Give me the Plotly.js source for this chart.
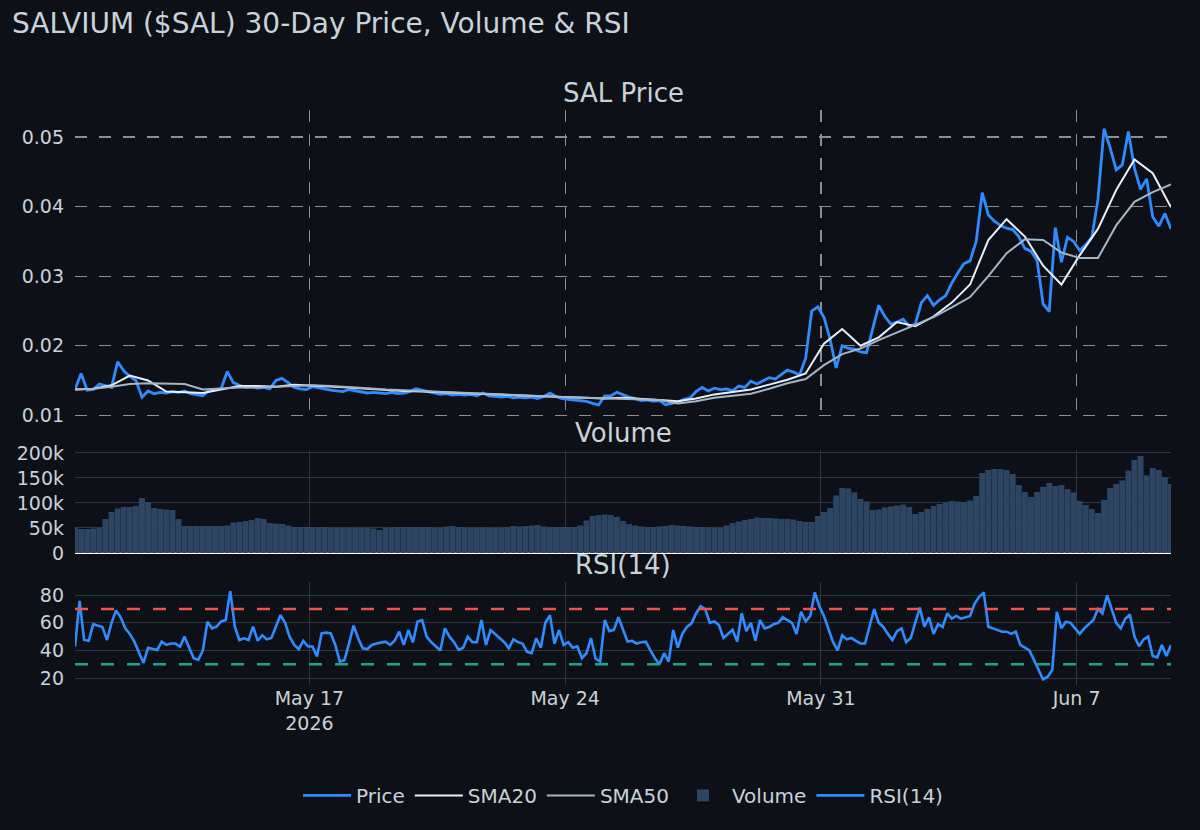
<!DOCTYPE html>
<html>
<head>
<meta charset="utf-8">
<script src="https://cdn.plot.ly/plotly-3.0.1.min.js"></script>
<style>
html,body{margin:0;padding:0;background:#0d1117;}
#chart{width:1200px;height:830px;}
</style>
</head>
<body>
<div id="chart"></div>
<script>
// ---- Data ----
const startTime = '2026-05-10T14:00:00Z';
const priceStepHours = 4;     // price & volume sampled every 4 h
const smaStepHours = 12;      // moving averages sampled every 12 h
const rsiStepHours = 3;       // RSI sampled every 3 h

const price = [
 0.0137,0.0160,0.0136,0.0137,0.0145,0.0143,0.0140,0.0177,0.0164,0.0156,
 0.0150,0.0126,0.0135,0.0131,0.0133,0.0132,0.0134,0.0133,0.0135,0.0131,
 0.0129,0.0128,0.0136,0.0137,0.0138,0.0163,0.0147,0.0143,0.0140,0.0141,
 0.0139,0.0140,0.0138,0.0150,0.0153,0.0147,0.0140,0.0138,0.0137,0.0141,
 0.0139,0.0138,0.0136,0.0135,0.0134,0.0137,0.0135,0.0133,0.0132,0.0133,
 0.0132,0.0131,0.0133,0.0131,0.0132,0.0134,0.0138,0.0136,0.0133,0.0131,
 0.0130,0.0131,0.0129,0.0130,0.0129,0.0130,0.0128,0.0132,0.0128,0.0127,
 0.0126,0.0127,0.0125,0.0126,0.0125,0.0126,0.0124,0.0127,0.0132,0.0127,
 0.0124,0.0123,0.0122,0.0122,0.0120,0.0117,0.0115,0.0128,0.0128,0.0133,
 0.0129,0.0126,0.0124,0.0121,0.0122,0.0120,0.0121,0.0115,0.0117,0.0119,
 0.0123,0.0125,0.0134,0.0140,0.0135,0.0139,0.0137,0.0138,0.0135,0.0142,
 0.0140,0.0149,0.0145,0.0150,0.0154,0.0152,0.0158,0.0165,0.0162,0.0158,
 0.0182,0.0250,0.0256,0.0241,0.0210,0.0168,0.0200,0.0196,0.0195,0.0191,
 0.0190,0.0224,0.0258,0.0242,0.0231,0.0234,0.0238,0.0228,0.0231,0.0262,
 0.0272,0.0258,0.0266,0.0272,0.0290,0.0305,0.0318,0.0322,0.0350,0.0420,
 0.0388,0.0379,0.0373,0.0369,0.0367,0.0357,0.0340,0.0336,0.0323,0.0260,
 0.0249,0.0370,0.0320,0.0356,0.0350,0.0337,0.0345,0.0356,0.0410,0.0512,
 0.0485,0.0453,0.0460,0.0508,0.0455,0.0425,0.0440,0.0385,0.0372,0.0390,
 0.0368
];

const volumeK = [
 52,48,48,49,50,68,82,89,92,92,
 94,110,102,90,88,87,86,68,54,54,
 54,54,54,54,54,55,61,62,64,66,
 70,68,60,59,58,55,52,52,52,52,
 51,52,51,51,51,51,50,50,50,49,
 46,51,51,52,52,52,51,52,52,51,
 51,53,54,52,51,51,51,51,51,50,
 50,52,54,53,54,55,56,53,52,52,
 52,52,52,55,65,74,76,77,76,72,
 64,58,55,53,52,52,53,54,56,55,
 54,53,52,52,51,50,50,55,60,63,
 66,68,71,70,70,69,68,68,67,64,
 62,62,74,82,90,115,130,129,121,108,
 103,86,87,91,93,95,97,92,78,82,
 88,94,98,101,104,103,102,105,114,160,
 166,168,168,166,158,136,122,112,122,132,
 140,134,136,128,121,104,96,88,80,106,
 130,138,145,165,186,194,155,170,166,152,
 138
];

const sma20 = [
 0.0137,0.0138,0.0143,0.0157,0.0150,0.0134,0.0133,0.0132,0.0137,0.0142,
 0.0142,0.0141,0.0144,0.0143,0.0141,0.0140,0.0138,0.0136,0.0135,0.0134,
 0.0133,0.0131,0.0130,0.0129,0.0128,0.0127,0.0126,0.0125,0.0124,0.0124,
 0.0125,0.0124,0.0122,0.0120,0.0124,0.0130,0.0134,0.0137,0.0144,0.0151,
 0.0160,0.0203,0.0224,0.0200,0.0212,0.0234,0.0228,0.0242,0.0262,0.0288,
 0.0352,0.0382,0.0357,0.0315,0.0288,0.0330,0.0368,0.0424,0.0468,0.0448,
 0.0399
];

const sma50 = [
 0.0137,0.0138,0.0141,0.0145,0.0146,0.0146,0.0145,0.0137,0.0139,0.0140,
 0.0140,0.0141,0.0143,0.0143,0.0142,0.0141,0.0139,0.0137,0.0136,0.0134,
 0.0133,0.0132,0.0131,0.0130,0.0129,0.0128,0.0127,0.0126,0.0125,0.0124,
 0.0124,0.0123,0.0122,0.0117,0.0120,0.0125,0.0128,0.0131,0.0138,0.0146,
 0.0152,0.0172,0.0188,0.0196,0.0208,0.0219,0.0229,0.0241,0.0255,0.0270,
 0.0300,0.0333,0.0353,0.0352,0.0334,0.0326,0.0326,0.0373,0.0407,0.0421,
 0.0432
];

const rsi = [
 42.8,75.9,47.6,47,59,58,57,47.6,60,69,
 64,56,52,46.4,38,31,42,41,40.4,46.4,
 44,45,45,42.8,50,42,34.4,33.2,40,60.8,
 56,57.2,61,62,83,57.2,47.6,48.8,47.6,57.2,
 47,51,48,49,57.2,65.6,60,50,44,41,
 47,43,42.8,35.6,52.4,52.9,52.4,44,32,33,
 45,58,49,41.6,41,44,45,45.5,46.4,44,
 47,53.6,44,54.8,46,61,62,50,46,43,
 40,56,50,46,40.4,42,50,46,46,62,
 44,54.8,52,48.8,46,41.6,48,46,45,39,
 38,48.8,42,60,65.6,45,54.8,44,46,42,
 43,34.4,38,49,34,32,62,54,54.8,64,
 55,46.4,47,45,46,46.4,40,34.4,30,38,
 32,54.8,42,52,57,59.6,66.8,72,70,60,
 61,58.4,49,52,55,46.4,66.8,54,60,47,
 62,56,57,59,60,64,62,60,52,68,
 61,65,82,72,65,54.8,46,40,51,48,
 49,47,45,45,58,70,60,57,52,47.6,
 54,56,46,49,60,71,57.2,64,52,59,
 57,66.8,63,65,63,64,65,74,78.8,82,
 57.2,56,54.8,53.6,53.6,52,53.6,44,42,40,
 33,26,19,21,26,68,56,60.8,60,56,
 52,56,59,62,70,66.8,80,70.4,60,56,
 63,66,50,43,48,50,36,35,44,36,
 44
];

const rsiOverbought = 70;
const rsiOversold = 30;

const tickDates = ['2026-05-17', '2026-05-24', '2026-05-31', '2026-06-07'];
const tickLabels = ['May 17<br>2026', 'May 24', 'May 31', 'Jun 7'];

// ---- Build time axes ----
function timeAxis(n, stepH) {
  const t0 = Date.parse(startTime);
  const out = [];
  for (let k = 0; k < n; k++) {
    out.push(new Date(t0 + k * stepH * 3600000).toISOString().slice(0, 19).replace('T', ' '));
  }
  return out;
}
const priceTimes = timeAxis(price.length, priceStepHours);
const smaTimes = timeAxis(sma20.length, smaStepHours);
const rsiTimes = timeAxis(rsi.length, rsiStepHours);
const volume = volumeK.map(v => v * 1000);

// ---- Style ----
const BG = '#0d1117';
const TXT = '#c9d1d9';
const PRICE_C = '#2f8cff';
const FONT = 'DejaVu Sans, Verdana, sans-serif';
const xRange = ['2026-05-10 14:00:00', '2026-06-09 14:00:00'];

const traces = [
  {type:'scatter', mode:'lines', name:'Price', x:priceTimes, y:price,
   line:{color:PRICE_C, width:2.8}, xaxis:'x', yaxis:'y'},
  {type:'scatter', mode:'lines', name:'SMA20', x:smaTimes, y:sma20,
   line:{color:'#e6f1ff', width:2}, xaxis:'x', yaxis:'y'},
  {type:'scatter', mode:'lines', name:'SMA50', x:smaTimes, y:sma50,
   line:{color:'#a3b5c6', width:2}, xaxis:'x', yaxis:'y'},
  {type:'bar', name:'Volume', x:priceTimes, y:volume,
   marker:{color:'#2b4563'}, xaxis:'x2', yaxis:'y2'},
  {type:'scatter', mode:'lines', name:'RSI(14)', x:rsiTimes, y:rsi,
   line:{color:PRICE_C, width:2.6}, xaxis:'x3', yaxis:'y3'}
];

const dashGrid = {showgrid:true, gridcolor:'#8b8f95', gridwidth:1.3, griddash:'12px,12px'};
const solidGrid = {showgrid:true, gridcolor:'#30363d', gridwidth:1};

const baseX = {type:'date', range:xRange, tickvals:tickDates, ticktext:tickLabels,
  zeroline:false, showline:false, ticks:''};

const yTick = {ticks:'', ticklabelstandoff:10, tickfont:{size:19, color:TXT}};

const layout = {
  width:1200, height:830,
  paper_bgcolor:BG, plot_bgcolor:BG,
  font:{family:FONT, color:TXT, size:19},
  title:{text:'SALVIUM ($SAL) 30-Day Price, Volume &amp; RSI', x:0.01, xanchor:'left',
         y:0.972, yanchor:'middle', font:{size:28, color:TXT, family:FONT}},
  margin:{l:75, r:29, t:110, b:145},
  showlegend:true,
  legend:{orientation:'h', x:0.5, xanchor:'center', y:-0.192, yanchor:'middle',
          font:{size:20, color:TXT}, bgcolor:'rgba(0,0,0,0)', itemwidth:48},
  bargap:0.03,
  xaxis:Object.assign({}, baseX, dashGrid, {anchor:'y', domain:[0,1], showticklabels:false}),
  xaxis2:Object.assign({}, baseX, solidGrid, {anchor:'y2', domain:[0,1], matches:'x', showticklabels:false}),
  xaxis3:Object.assign({}, baseX, solidGrid, {anchor:'y3', domain:[0,1], matches:'x', showticklabels:true,
          tickfont:{size:19, color:TXT}}),
  yaxis:Object.assign({}, dashGrid, yTick, {domain:[0.4643,1], range:[0.0096,0.0539], dtick:0.01,
          zeroline:false}),
  yaxis2:Object.assign({}, solidGrid, yTick, {domain:[0.2296,0.4087], range:[0,206000], dtick:50000,
          zeroline:true, zerolinecolor:'#ffffff', zerolinewidth:2}),
  yaxis3:Object.assign({}, solidGrid, yTick, {domain:[0,0.179], range:[15,89.5], dtick:20,
          zeroline:false}),
  shapes:[
    {type:'line', xref:'paper', x0:0, x1:1, yref:'y3', y0:rsiOverbought, y1:rsiOverbought,
     line:{color:'#ef5350', width:2.6, dash:'13px,13px'}},
    {type:'line', xref:'paper', x0:0, x1:1, yref:'y3', y0:rsiOversold, y1:rsiOversold,
     line:{color:'#1fa585', width:2.6, dash:'13px,13px'}}
  ],
  annotations:[
    {text:'SAL Price', xref:'paper', yref:'paper', x:0.5, y:1, xanchor:'center', yanchor:'bottom',
     showarrow:false, font:{size:26, color:TXT}},
    {text:'Volume', xref:'paper', yref:'paper', x:0.5, y:0.4087, xanchor:'center', yanchor:'bottom',
     showarrow:false, font:{size:26, color:TXT}},
    {text:'RSI(14)', xref:'paper', yref:'paper', x:0.5, y:0.179, xanchor:'center', yanchor:'bottom',
     showarrow:false, font:{size:26, color:TXT}}
  ]
};

Plotly.newPlot('chart', traces, layout, {displayModeBar:false, staticPlot:true});
</script>
</body>
</html>
